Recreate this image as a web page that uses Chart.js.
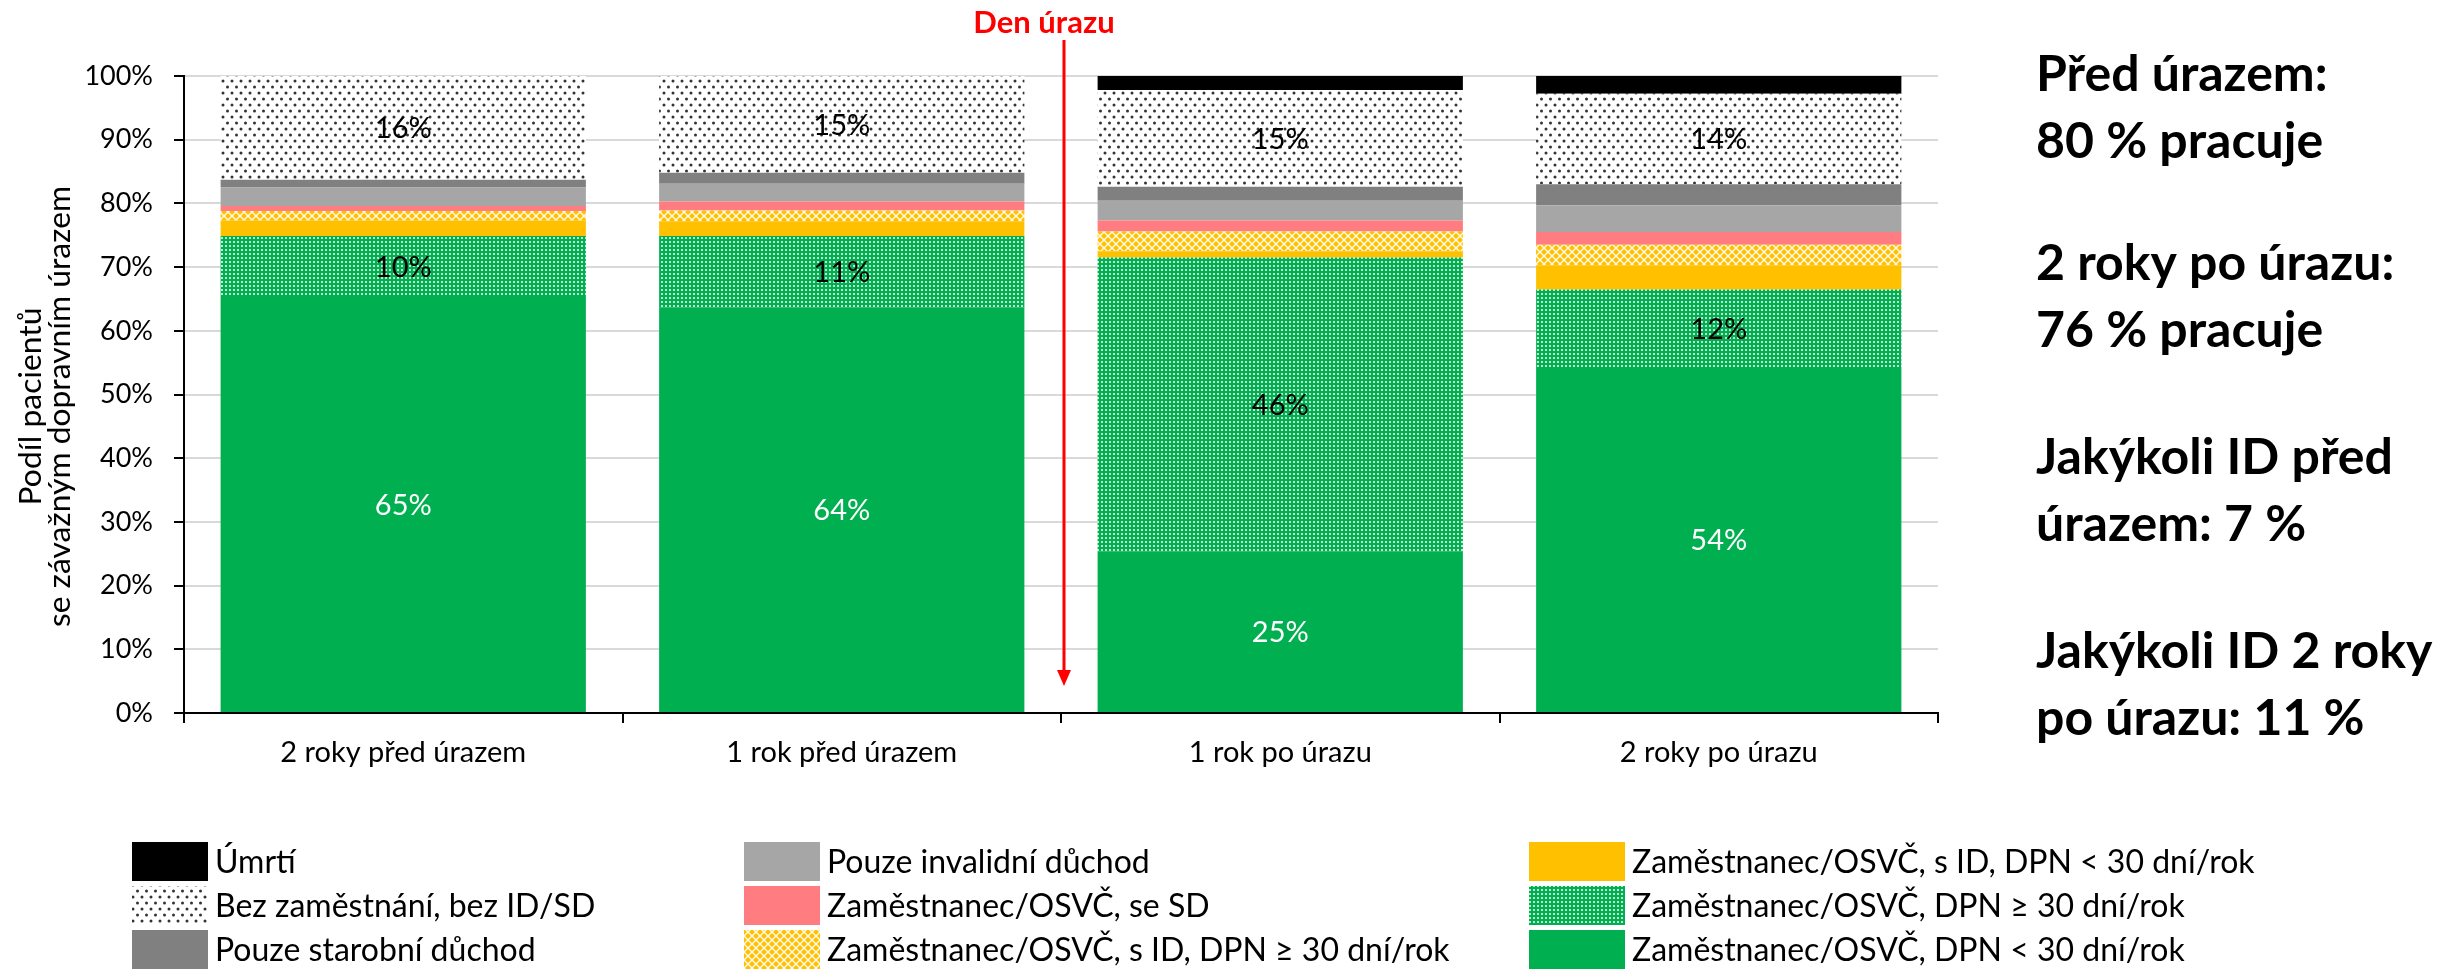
<!DOCTYPE html>
<html lang="cs">
<head>
<meta charset="utf-8">
<script src="https://cdn.jsdelivr.net/npm/chart.js@4"></script>
<style>
    html, body { margin: 0; padding: 0; background: #fff; }
    #wrap { width: 2440px; height: 972px; position: relative; }
</style>
</head>
<body>
<div id="wrap"><canvas id="chart"></canvas></div>
<script>
// kategorie (osa x)
const categories = ["2 roky před úrazem", "1 rok před úrazem", "1 rok po úrazu", "2 roky po úrazu"];

// podíly v %, odspodu nahoru
const zamDpnPod30 = [65.3, 63.6, 25.3, 54.3];   // Zaměstnanec/OSVČ, DPN < 30 dní/rok
const zamDpnNad30 = [9.6, 11.3, 46.2, 12.2];    // Zaměstnanec/OSVČ, DPN ≥ 30 dní/rok
const zamIdPod30  = [2.4, 2.3, 1.0, 3.8];       // s ID, DPN < 30
const zamIdNad30  = [1.5, 1.7, 3.1, 3.2];       // s ID, DPN ≥ 30
const zamSd       = [0.8, 1.4, 1.7, 2.0];       // se SD
const invalidni   = [2.9, 2.8, 3.1, 4.2];       // pouze invalidní důchod
const starobni    = [1.2, 1.7, 2.2, 3.3];       // pouze starobní důchod
const bezZam      = [16.3, 15.2, 15.2, 14.2];   // bez zaměstnání
const umrti       = [0, 0, 2.2, 2.8];           // úmrtí

// popis osy y
const yTitle = ["Podíl pacientů", "se závažným dopravním úrazem"];

// text vpravo
const sideText = [
    ["Před úrazem:", "80 % pracuje"],
    ["2 roky po úrazu:", "76 % pracuje"],
    ["Jakýkoli ID před", "úrazem: 7 %"],
    ["Jakýkoli ID 2 roky", "po úrazu: 11 %"]
];

Chart.defaults.font.family = "Lato";
Chart.defaults.color = "#000";

// vzory výplní
function makePattern(w, h, bg, draw) {
    const c = document.createElement("canvas");
    c.width = w;
    c.height = h;
    const x = c.getContext("2d");
    x.fillStyle = bg;
    x.fillRect(0, 0, w, h);
    draw(x);
    return x.createPattern(c, "repeat");
}

const dotsPattern = makePattern(9, 12, "#ffffff", x => {
    x.fillStyle = "#333333";
    x.beginPath(); x.arc(2.5, 3, 1.5, 0, Math.PI * 2); x.fill();
    x.beginPath(); x.arc(7, 9, 1.5, 0, Math.PI * 2); x.fill();
});

const greenPattern = makePattern(4, 4, "#00B050", x => {
    x.fillStyle = "rgba(255,255,255,0.75)";
    x.fillRect(1, 1, 2, 2);
});

const yellowPattern = makePattern(8, 8, "#FFC000", x => {
    x.strokeStyle = "rgba(255,255,255,0.9)";
    x.lineWidth = 1.5;
    x.beginPath();
    x.moveTo(0, 0); x.lineTo(8, 8);
    x.moveTo(8, 0); x.lineTo(0, 8);
    x.stroke();
});

const datasets = [
    { label: "Zaměstnanec/OSVČ, DPN < 30 dní/rok", data: zamDpnPod30, backgroundColor: "#00B050" },
    { label: "Zaměstnanec/OSVČ, DPN ≥ 30 dní/rok", data: zamDpnNad30, backgroundColor: greenPattern },
    { label: "Zaměstnanec/OSVČ, s ID, DPN < 30 dní/rok", data: zamIdPod30, backgroundColor: "#FFC000" },
    { label: "Zaměstnanec/OSVČ, s ID, DPN ≥ 30 dní/rok", data: zamIdNad30, backgroundColor: yellowPattern },
    { label: "Zaměstnanec/OSVČ, se SD", data: zamSd, backgroundColor: "#FF7C80" },
    { label: "Pouze invalidní důchod", data: invalidni, backgroundColor: "#A6A6A6" },
    { label: "Pouze starobní důchod", data: starobni, backgroundColor: "#808080" },
    { label: "Bez zaměstnání, bez ID/SD", data: bezZam, backgroundColor: dotsPattern },
    { label: "Úmrtí", data: umrti, backgroundColor: "#000000" }
];

// které datasety mají popisky a jakou barvou
const labelSets = [
    { index: 0, color: "#ffffff" },
    { index: 1, color: "#000000" },
    { index: 7, color: "#000000" }
];

// pořadí legendy po sloupcích (indexy datasetů)
const legendCols = [
    { x: 132, w: 76, items: [8, 7, 6] },
    { x: 744, w: 76, items: [5, 4, 3] },
    { x: 1529, w: 96, items: [2, 1, 0] }
];

const overlay = {
    id: "overlay",
    afterDatasetsDraw(chart) {
        const ctx = chart.ctx;
        ctx.save();
        ctx.font = "29px Lato";
        ctx.textAlign = "center";
        ctx.textBaseline = "middle";
        labelSets.forEach(s => {
            const meta = chart.getDatasetMeta(s.index);
            meta.data.forEach((bar, i) => {
                const v = chart.data.datasets[s.index].data[i];
                if (!v) return;
                const p = bar.getProps(["x", "y", "base"], true);
                ctx.fillStyle = s.color;
                ctx.fillText(Math.round(v) + "%", p.x, (p.y + p.base) / 2 + 1);
            });
        });
        ctx.restore();
    },
    afterDraw(chart) {
        const ctx = chart.ctx;
        const xs = chart.scales.x;
        const area = chart.chartArea;
        ctx.save();

        // popis osy y (trochu roztažený po délce jako v originále)
        ctx.fillStyle = "#000";
        ctx.font = "30px Lato";
        ctx.textAlign = "center";
        ctx.textBaseline = "middle";
        const midY = (area.top + area.bottom) / 2 + 12;
        [31, 60].forEach((cx, i) => {
            ctx.save();
            ctx.translate(cx, midY);
            ctx.rotate(-Math.PI / 2);
            ctx.scale(1.06, 1);
            ctx.fillText(yTitle[i], 0, 0);
            ctx.restore();
        });

        // šipka "Den úrazu"
        const ax = (xs.getPixelForValue(1) + xs.getPixelForValue(2)) / 2 + 3;
        ctx.strokeStyle = "#FF0000";
        ctx.fillStyle = "#FF0000";
        ctx.lineWidth = 3;
        ctx.beginPath();
        ctx.moveTo(ax, 40);
        ctx.lineTo(ax, 672);
        ctx.stroke();
        ctx.beginPath();
        ctx.moveTo(ax - 7, 670);
        ctx.lineTo(ax + 7, 670);
        ctx.lineTo(ax, 686);
        ctx.closePath();
        ctx.fill();
        ctx.font = "bold 31px Lato";
        ctx.textAlign = "center";
        ctx.textBaseline = "alphabetic";
        ctx.fillText("Den úrazu", ax - 20, 33);

        // text vpravo
        ctx.fillStyle = "#000";
        ctx.textAlign = "left";
        ctx.font = "bold 50px Lato";
        const groupTop = [73, 262, 456, 650];
        sideText.forEach((g, gi) => {
            g.forEach((line, li) => {
                ctx.fillText(line, 2036, groupTop[gi] + li * 67 + 18);
            });
        });

        // legenda
        ctx.font = "32px Lato";
        ctx.textBaseline = "middle";
        legendCols.forEach(col => {
            col.items.forEach((di, r) => {
                const top = 842 + r * 44;
                ctx.fillStyle = chart.data.datasets[di].backgroundColor;
                ctx.fillRect(col.x, top, col.w, 39);
                ctx.fillStyle = "#000";
                ctx.fillText(chart.data.datasets[di].label, col.x + col.w + 7, top + 21);
            });
        });
        ctx.restore();
    }
};

new Chart(document.getElementById("chart"), {
    type: "bar",
    data: { labels: categories, datasets: datasets },
    options: {
        responsive: true,
        maintainAspectRatio: false,
        animation: false,
        datasets: { bar: { categoryPercentage: 1, barPercentage: 0.833 } },
        layout: { padding: { left: 0, right: 502, top: 76, bottom: 179 } },
        plugins: { legend: { display: false }, tooltip: { enabled: false } },
        scales: {
            x: {
                stacked: true,
                afterFit: s => { s.height = 80; },
                border: { color: "#000", width: 2 },
                grid: { offset: true, drawOnChartArea: false, tickLength: 10, tickColor: "#000", lineWidth: 2 },
                ticks: { font: { size: 29 }, color: "#000", padding: 12, maxRotation: 0 }
            },
            y: {
                stacked: true,
                min: 0,
                max: 100,
                afterFit: s => { s.width = 184; },
                border: { color: "#000", width: 2 },
                grid: { color: "#d9d9d9", lineWidth: 2, tickLength: 10, tickColor: "#000" },
                ticks: { stepSize: 10, font: { size: 27 }, color: "#000", padding: 21, callback: v => v + "%" },
                title: { display: false }
            }
        }
    },
    plugins: [overlay]
});
</script>
</body>
</html>
